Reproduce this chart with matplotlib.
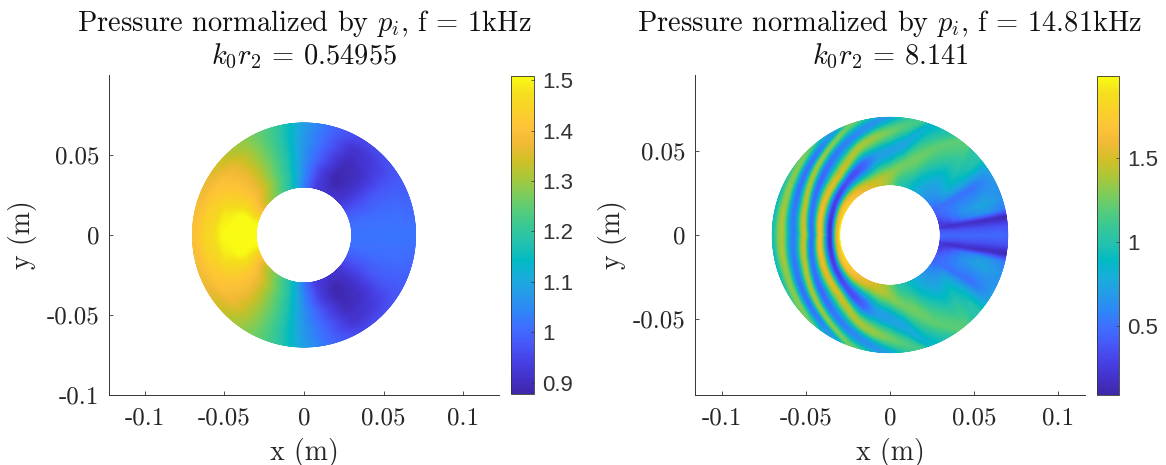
import numpy as np
import matplotlib
matplotlib.use("Agg")
import matplotlib.pyplot as plt
from matplotlib.colors import LinearSegmentedColormap

plt.rcParams['font.family'] = ['cmr10', 'DejaVu Sans']
plt.rcParams['mathtext.fontset'] = 'cm'
plt.rcParams['axes.unicode_minus'] = False
plt.rcParams['axes.formatter.use_mathtext'] = True

# ---------------- data ----------------
titles_left = "Pressure normalized by $p_i$, f = 1kHz\n$k_0r_2$ = 0.54955"
titles_right = "Pressure normalized by $p_i$, f = 14.81kHz\n$k_0r_2$ = 8.141"
ticks_x = [-0.1, -0.05, 0, 0.05, 0.1]
ticks_x_labels = ['-0.1', '-0.05', '0', '0.05', '0.1']
ticks_y_left = [-0.1, -0.05, 0, 0.05]
ticks_y_left_labels = ['-0.1', '-0.05', '0', '0.05']
ticks_y_right = [-0.05, 0, 0.05]
ticks_y_right_labels = ['-0.05', '0', '0.05']
cbar_left_ticks = [0.9, 1, 1.1, 1.2, 1.3, 1.4, 1.5]
cbar_left_labels = ['0.9', '1', '1.1', '1.2', '1.3', '1.4', '1.5']
cbar_right_ticks = [0.5, 1, 1.5]
cbar_right_labels = ['0.5', '1', '1.5']

# left field: angle from +x axis (symmetric about x axis), radii, values
left_theta = [0, 15, 30, 45, 60, 75, 90, 105, 120, 135, 150, 165, 180]
left_r = [0.03, 0.04, 0.05, 0.06, 0.07]
left_vals = [
    [1.02, 1.02, 1.02, 1.02, 1.02],
    [1.01, 1.01, 1.01, 1.01, 1.00],
    [0.97, 0.97, 0.98, 0.98, 0.98],
    [0.92, 0.91, 0.91, 0.93, 0.96],
    [0.91, 0.88, 0.89, 0.91, 0.95],
    [0.93, 0.94, 0.97, 0.99, 1.00],
    [1.03, 1.05, 1.06, 1.07, 1.08],
    [1.17, 1.19, 1.20, 1.20, 1.21],
    [1.25, 1.28, 1.29, 1.29, 1.28],
    [1.31, 1.37, 1.38, 1.37, 1.33],
    [1.40, 1.44, 1.43, 1.41, 1.37],
    [1.50, 1.52, 1.49, 1.44, 1.39],
    [1.54, 1.54, 1.51, 1.46, 1.40],
]

# right field: radial knots per angle follow the bands
right_theta = [0, 5, 9, 13, 18, 24, 30, 40, 50, 60, 70, 80, 90, 100, 110, 120, 130, 140, 150, 160, 170, 180]
right_r = [
    [.03, .035, .04, .045, .05, .055, .06, .065, .07],
    [.03, .035, .04, .045, .05, .055, .06, .065, .07],
    [.03, .035, .04, .045, .05, .055, .06, .065, .07],
    [.03, .035, .04, .045, .05, .055, .06, .065, .07],
    [.03, .035, .04, .045, .05, .055, .06, .065, .07],
    [.03, .035, .04, .045, .05, .055, .06, .065, .07],
    [.03, .035, .04, .045, .05, .055, .06, .065, .07],
    [.03, .05, .065, .07, .075, .078, .08, .085, .09],
    [.03, .075, .078, .08, .082, .084, .086, .088, .09],
    [.03, .062, .072, .076, .078, .08, .082, .085, .09],
    [.03, .048, .07, .074, .078, .08, .082, .085, .09],
    [.03, .042, .0555, .0665, .075, .08, .082, .085, .09],
    [.03, .0355, .05, .0615, .072, .078, .08, .084, .09],
    [.03, .0325, .0472, .0588, .0667, .074, .078, .082, .088],
    [.03, .0315, .0447, .0553, .0627, .07, .073, .078, .085],
    [.03, .0318, .0425, .05, .0594, .065, .069, .075, .082],
    [.03, .0322, .0405, .0465, .056, .0615, .0655, .071, .078],
    [.03, .0322, .039, .045, .053, .0585, .0632, .0685, .075],
    [.03, .032, .0378, .0441, .0508, .0558, .0612, .0668, .073],
    [.03, .0317, .0367, .0432, .049, .0535, .0595, .0655, .072],
    [.03, .0315, .0361, .0424, .0477, .0522, .0585, .065, .0715],
    [.03, .0315, .0357, .0417, .0466, .051, .0575, .0645, .0715],
]
right_vals = [
    [.48, .48, .48, .48, .48, .48, .48, .48, .45],
    [.38, .38, .36, .36, .36, .36, .36, .36, .36],
    [.25, .18, .18, .18, .17, .15, .15, .13, .12],
    [.25, .33, .45, .55, .60, .65, .65, .60, .55],
    [.35, .45, .55, .65, .70, .75, .75, .70, .65],
    [.45, .50, .55, .60, .60, .62, .65, .65, .65],
    [.45, .50, .50, .50, .50, .50, .55, .62, .70],
    [.60, .90, 1.00, 1.00, 1.00, 1.00, 1.00, 1.00, 1.00],
    [.70, 1.20, 1.05, 1.05, 1.05, 1.05, 1.05, 1.05, 1.05],
    [.80, 1.20, 1.00, 1.00, 1.00, 1.00, 1.00, 1.00, 1.00],
    [.95, 1.25, .85, 1.10, .95, .95, .95, .95, .95],
    [1.05, 1.25, .75, 1.15, 1.00, 1.00, 1.00, 1.00, 1.00],
    [1.30, 1.35, .72, 1.25, .70, 1.00, 1.00, 1.00, 1.00],
    [1.45, 1.45, .70, 1.35, .65, 1.20, .90, 1.00, 1.00],
    [1.55, 1.50, .45, 1.40, .60, 1.25, .90, .90, .90],
    [1.60, 1.55, .35, 1.45, .55, 1.30, .70, .90, .90],
    [1.65, 1.60, .35, 1.50, .50, 1.35, .55, 1.20, .80],
    [1.75, 1.65, .30, 1.55, .45, 1.40, .50, 1.30, .80],
    [1.85, 1.70, .28, 1.58, .48, 1.42, .50, 1.32, .80],
    [1.92, 1.65, .25, 1.62, .50, 1.45, .52, 1.35, .80],
    [1.97, 1.60, .20, 1.65, .50, 1.48, .55, 1.40, .85],
    [1.97, 1.60, .20, 1.65, .50, 1.50, .55, 1.40, .90],
]

# parula-like colormap stops
stops = [
    (0.2422, 0.1504, 0.6603), (0.2647, 0.1978, 0.7952), (0.2783, 0.2559, 0.8991),
    (0.2795, 0.3447, 0.9717), (0.2440, 0.4358, 0.9988), (0.1786, 0.5289, 0.9682),
    (0.1460, 0.6091, 0.9079), (0.0952, 0.6798, 0.8598), (0.0067, 0.7312, 0.7660),
    (0.1408, 0.7584, 0.6842), (0.2161, 0.7843, 0.5923), (0.3406, 0.8008, 0.4789),
    (0.5044, 0.7993, 0.3480), (0.6720, 0.7793, 0.2227), (0.8203, 0.7498, 0.1535),
    (0.9393, 0.7288, 0.2100), (0.9970, 0.7659, 0.2199), (0.9786, 0.8217, 0.1610),
    (0.9589, 0.8746, 0.1142), (0.9769, 0.9839, 0.0805),
]
parula = LinearSegmentedColormap.from_list('parula_like', stops, N=256)


def smooth_interp(x, xp, fp):
    """Cosine blend between knots, so the bands keep a wave-like profile."""
    xp = np.asarray(xp)
    fp = np.asarray(fp)
    j = np.clip(np.searchsorted(xp, x, side='right') - 1, 0, len(xp) - 2)
    t = np.clip((x - xp[j]) / (xp[j + 1] - xp[j]), 0, 1)
    s = (1 - np.cos(np.pi * t)) / 2
    return fp[j] + (fp[j + 1] - fp[j]) * s


def field(theta_nodes, radii, values, blur_deg):
    """Render the table on a fine polar mesh (theta from +x, mirrored about the x axis)."""
    th = np.linspace(-180, 180, 1081)
    r = np.linspace(0.03, 0.07, 161)
    radii = np.asarray(radii, float)
    values = np.asarray(values, float)
    C = np.zeros((th.size, r.size))
    for i, t in enumerate(th):
        a = abs(t)
        rk = [np.interp(a, theta_nodes, radii[:, k]) for k in range(radii.shape[1])]
        vk = [np.interp(a, theta_nodes, values[:, k]) for k in range(values.shape[1])]
        C[i] = smooth_interp(r, rk, vk)
    n = max(1, int(blur_deg * 3))
    kernel = np.ones(n) / n
    pad = np.concatenate([C[-n - 1:-1], C, C[1:n + 1]], axis=0)
    C = np.apply_along_axis(lambda c: np.convolve(c, kernel, mode='same'), 0, pad)[n:-n]
    T, R = np.meshgrid(np.deg2rad(th), r, indexing='ij')
    return R * np.cos(T), R * np.sin(T), C


W, H = 1166, 465
fig = plt.figure(figsize=(W / 100, H / 100), dpi=100)


def box(x0, x1, ytop, ybot):
    return [x0 / W, 1 - ybot / H, (x1 - x0) / W, (ybot - ytop) / H]


dark = '#333333'


def panel(axbox, cbox, lim, title, yt, ytl, cbt, cbl, clim, X, Y, C, ylabelpad):
    ax = fig.add_axes(box(*axbox))
    m = ax.pcolormesh(X, Y, C, shading='gouraud', cmap=parula, vmin=clim[0], vmax=clim[1], rasterized=True)
    ax.set_xlim(-lim[0], lim[0])
    ax.set_ylim(-lim[1], lim[1])
    ax.spines['top'].set_visible(False)
    ax.spines['right'].set_visible(False)
    for s in ax.spines.values():
        s.set_color(dark)
        s.set_linewidth(0.7)
    ax.set_xticks(ticks_x, ticks_x_labels)
    ax.set_yticks(yt, ytl)
    ax.tick_params(direction='in', length=3, width=0.6, color=dark, labelsize=18,
                   labelcolor='#262626', pad=7)
    ax.tick_params(axis='x', pad=9)
    ax.set_xlabel('x (m)', fontsize=20, color='#262626', labelpad=6)
    ax.set_ylabel('y (m)', fontsize=20, color='#262626', labelpad=ylabelpad)
    ax.set_title(title, fontsize=20.5, color='#111111', pad=8, linespacing=1.1)
    cax = fig.add_axes(box(*cbox))
    cb = fig.colorbar(m, cax=cax)
    cb.set_ticks(cbt, labels=cbl)
    cb.outline.set_edgecolor(dark)
    cb.outline.set_linewidth(0.6)
    cax.tick_params(direction='in', length=2, width=0.5, color=dark, labelsize=16,
                    labelcolor='#333333', pad=6)
    for t in cax.get_yticklabels():
        t.set_fontfamily('Liberation Sans')
    return ax


Xl, Yl, Cl = field(left_theta, [left_r] * len(left_theta), left_vals, 8)
panel((109, 499, 75, 395), (511, 534, 76, 394), (0.1224, 0.1),
      titles_left, ticks_y_left, ticks_y_left_labels,
      cbar_left_ticks, cbar_left_labels, (0.878, 1.508), Xl, Yl, Cl, 7)

Xr, Yr, Cr = field(right_theta, right_r, right_vals, 1.5)
panel((695, 1085, 75, 395), (1097, 1119, 76, 395), (0.116, 0.0952),
      titles_right, ticks_y_right, ticks_y_right_labels,
      cbar_right_ticks, cbar_right_labels, (0.09, 1.988), Xr, Yr, Cr, 4)

fig.savefig('out.png', dpi=100)
